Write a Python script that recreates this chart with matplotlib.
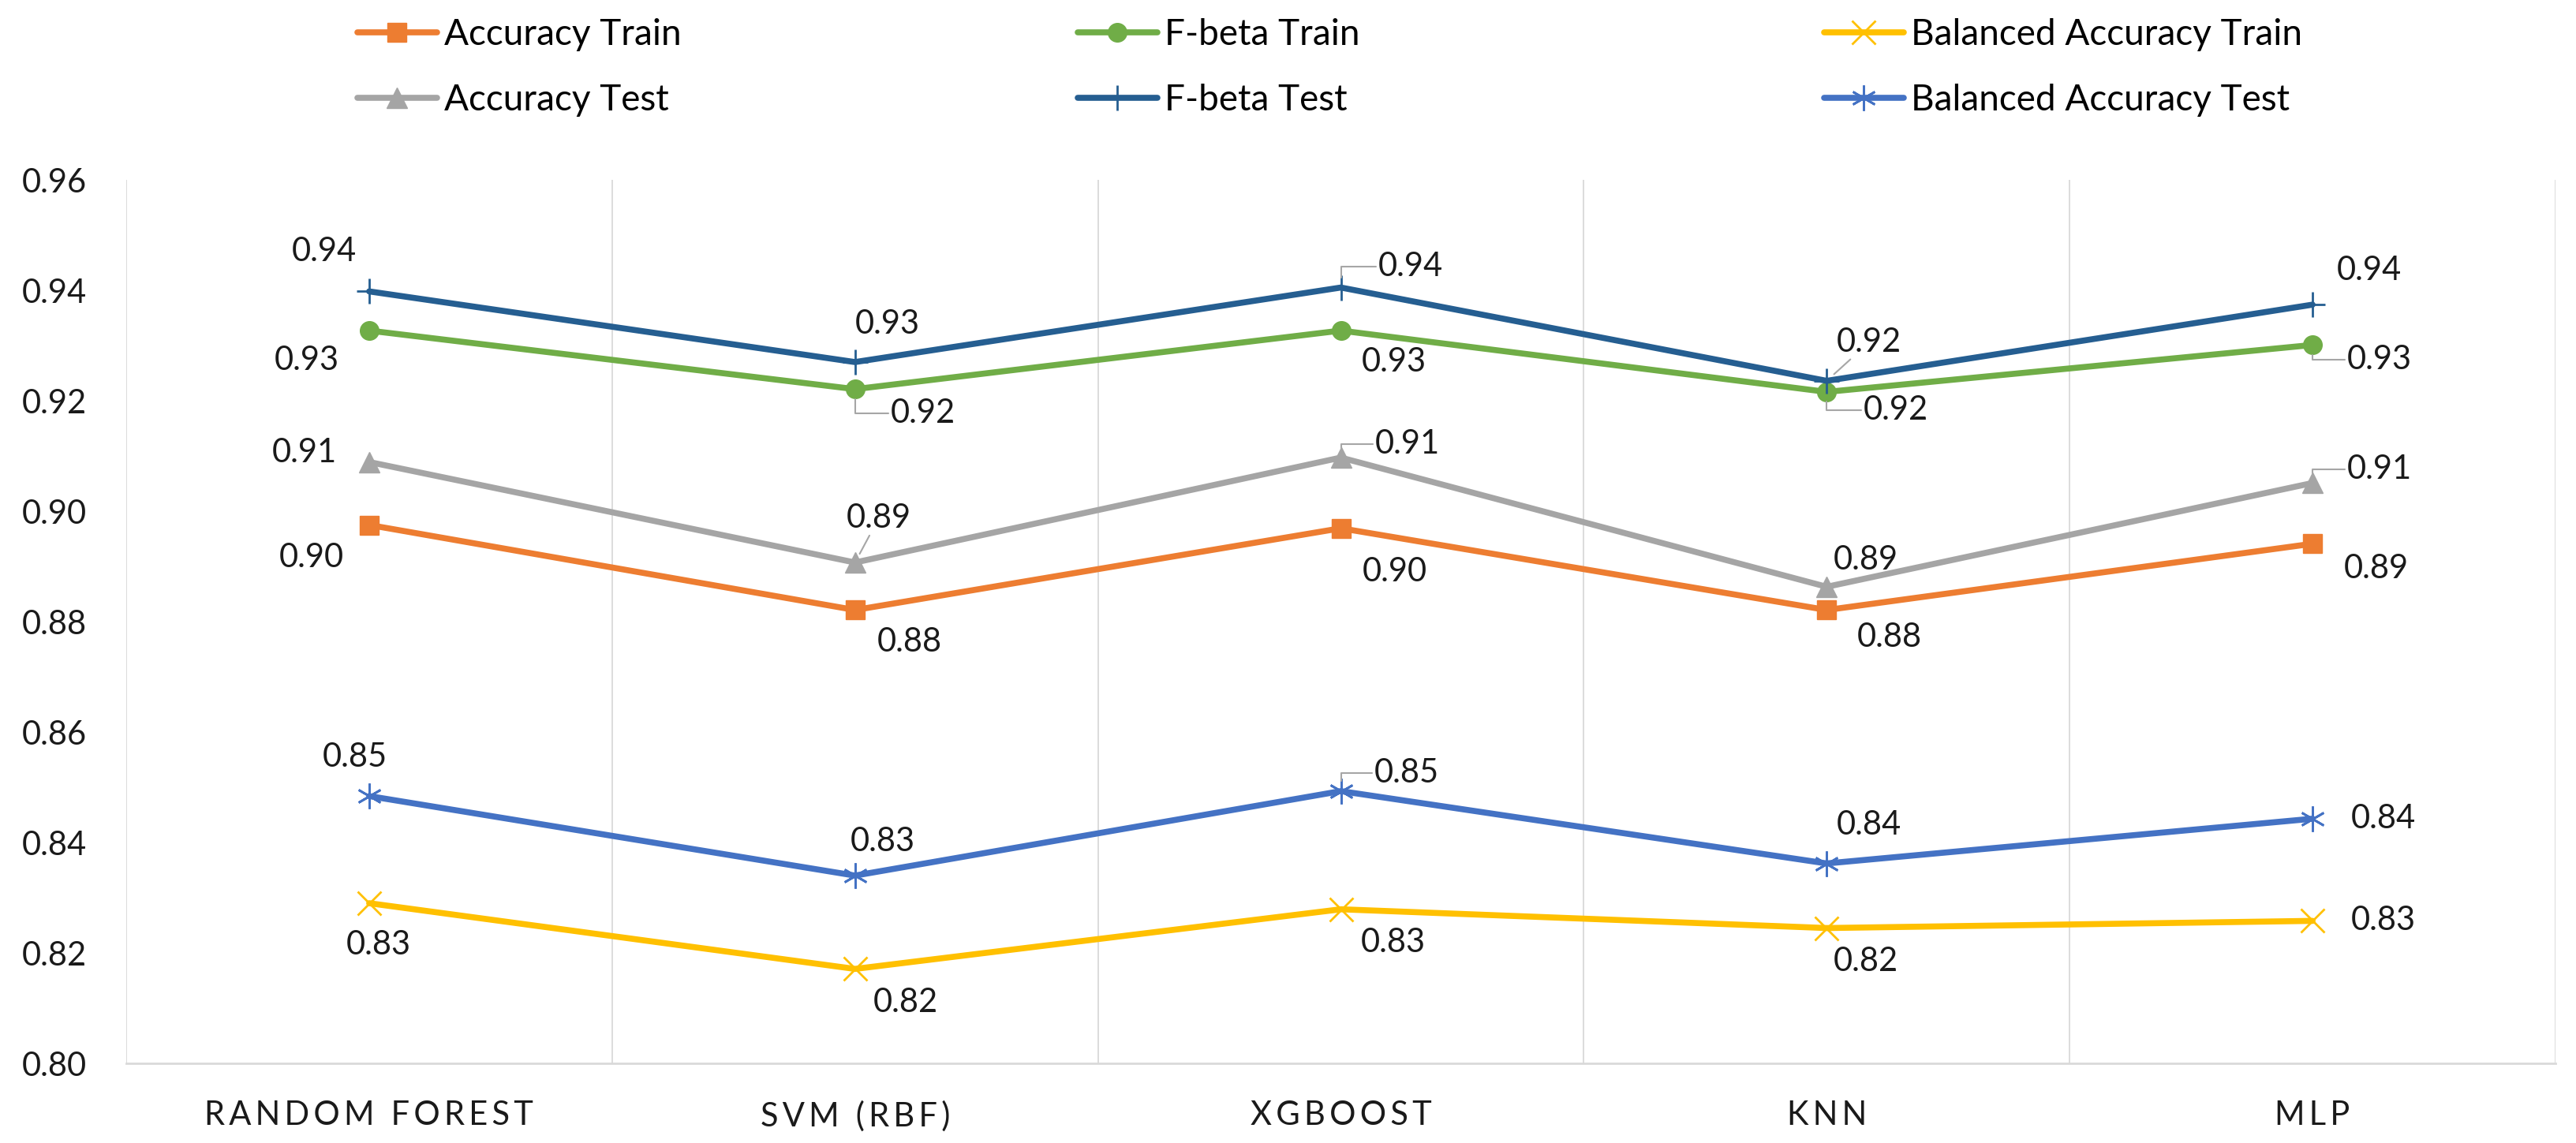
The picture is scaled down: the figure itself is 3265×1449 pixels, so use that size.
import matplotlib
matplotlib.use('Agg')
import matplotlib.pyplot as plt

plt.rcParams['font.family'] = ['Lato', 'DejaVu Sans']

# values
categories = ['RANDOM FOREST', 'SVM (RBF)', 'XGBOOST', 'KNN', 'MLP']
acc_train = [0.8975, 0.8821, 0.8969, 0.8821, 0.8941]
fbeta_train = [0.9327, 0.9221, 0.9327, 0.9216, 0.9301]
bal_train = [0.8290, 0.8171, 0.8279, 0.8245, 0.8258]
acc_test = [0.9089, 0.8907, 0.9097, 0.8863, 0.9051]
fbeta_test = [0.9398, 0.9270, 0.9405, 0.9236, 0.9374]
bal_test = [0.8484, 0.8340, 0.8493, 0.8362, 0.8443]
y_ticks = [0.80, 0.82, 0.84, 0.86, 0.88, 0.90, 0.92, 0.94, 0.96]

# name, values, colour, marker, markersize, edge width
series = [
    ('Accuracy Train', acc_train, '#ED7D31', 's', 17, 1),
    ('Accuracy Test', acc_test, '#A5A5A5', '^', 19, 1),
    ('F-beta Train', fbeta_train, '#70AD47', 'o', 17, 1),
    ('F-beta Test', fbeta_test, '#255E91', '+', 23, 2),
    ('Balanced Accuracy Train', bal_train, '#FFC000', 'x', 21, 2),
    ('Balanced Accuracy Test', bal_test, '#4472C4', (6, 2, 0), 23, 2),
]

# data label offsets in pixels (dx, dy)
label_offsets = {
    'Accuracy Train': [(-73, -41), (69, -41), (68, -55), (80, -35), (81, -32)],
    'Accuracy Test': [(-82, 12), (30, 56), (84, 17), (50, 34), (85, 17)],
    'F-beta Train': [(-79, -38), (86, -31), (67, -40), (88, -23), (85, -19)],
    'F-beta Test': [(-57, 50), (41, 48), (88, 27), (54, 49), (72, 43)],
    'Balanced Accuracy Train': [(12, -53), (64, -43), (66, -42), (50, -42), (90, 0)],
    'Balanced Accuracy Test': [(-18, 49), (35, 43), (83, 23), (54, 49), (90, 0)],
}

# labels that get a leader line
leaders = {
    ('F-beta Test', 2): 'angle,angleA=0,angleB=90',
    ('F-beta Test', 3): 'arc3',
    ('F-beta Train', 1): 'angle,angleA=0,angleB=90',
    ('F-beta Train', 3): 'angle,angleA=0,angleB=90',
    ('F-beta Train', 4): 'angle,angleA=0,angleB=90',
    ('Accuracy Test', 1): 'arc3',
    ('Accuracy Test', 2): 'angle,angleA=0,angleB=90',
    ('Accuracy Test', 4): 'angle,angleA=0,angleB=90',
    ('Balanced Accuracy Test', 2): 'angle,angleA=0,angleB=90',
}

W, H = 3265, 1449
fig = plt.figure(figsize=(W / 100, H / 100), dpi=100, facecolor='white')
ax = fig.add_axes([160 / W, 1 - 1348 / H, (3239 - 160) / W, (1348 - 228) / H])

x = list(range(len(categories)))
handles = []
for name, vals, color, marker, ms, mew in series:
    ln, = ax.plot(x, vals, color=color, lw=5.5, marker=marker, markersize=ms,
                  markeredgewidth=mew, markerfacecolor=color, markeredgecolor=color,
                  label=name, zorder=3, solid_capstyle='round')
    handles.append(ln)
    for i, v in enumerate(vals):
        dx, dy = label_offsets[name][i]
        arrow = None
        if (name, i) in leaders:
            arrow = dict(arrowstyle='-', color='#A6A6A6', lw=1.5,
                         connectionstyle=leaders[(name, i)], shrinkA=0, shrinkB=9)
        ax.annotate(f'{v:.2f}', (i, v), xytext=(dx, dy), textcoords='offset pixels',
                    ha='center', va='center', fontsize=30, color='#1a1a1a',
                    arrowprops=arrow, zorder=4)

ax.set_xlim(-0.5, len(categories) - 0.5)
ax.set_ylim(0.80, 0.96)
ax.set_yticks(y_ticks)
ax.set_yticklabels([f'{t:.2f}' for t in y_ticks], fontsize=30, color='#1a1a1a')
ax.set_xticks(x)
ax.set_xticklabels(['\u2009'.join(c) for c in categories], fontsize=30, color='#1a1a1a')
ax.tick_params(axis='both', length=0)
ax.tick_params(axis='x', pad=34)
ax.tick_params(axis='y', pad=36)

for b in [i - 0.5 for i in range(len(categories) + 1)]:
    ax.axvline(b, color='#D9D9D9', lw=1.3, zorder=1)
for s in ['top', 'left', 'right']:
    ax.spines[s].set_visible(False)
ax.spines['bottom'].set_color('#D9D9D9')
ax.spines['bottom'].set_linewidth(2)

# legend: three columns, two rows
col_x = [430, 1343, 2289]
for j in range(3):
    fig.legend(handles[2 * j:2 * j + 2], [h.get_label() for h in handles[2 * j:2 * j + 2]],
               loc='upper left', bbox_to_anchor=(col_x[j] / W, 1.0),
               frameon=False, fontsize=33, borderpad=0, handlelength=2.2,
               handletextpad=0.2, labelspacing=0.9, markerscale=1.0)

fig.savefig('out.png', dpi=100, facecolor='white')
